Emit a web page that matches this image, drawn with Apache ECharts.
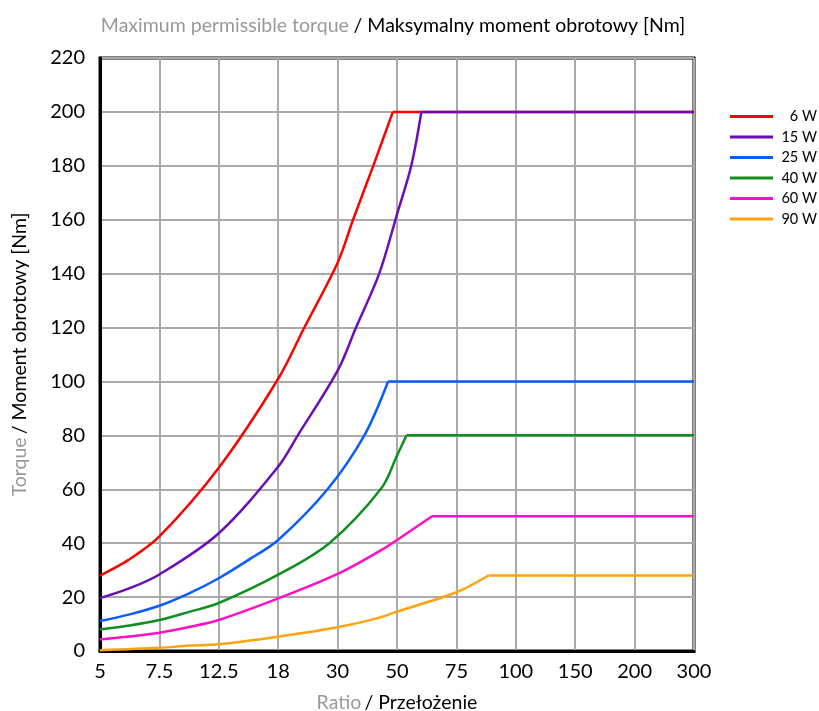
<!DOCTYPE html>
<html>
<head>
<meta charset="utf-8">
<script src="https://cdn.jsdelivr.net/npm/echarts@6/dist/echarts.min.js"></script>
<style>html,body{margin:0;padding:0;background:#fff;overflow:hidden}#c{width:819px;height:711px}</style>
</head>
<body>
<div id="c"></div>
<script>
// Tick labels of the ratio axis (evenly spaced positions 0..10)
const ratioLabels = ['5', '7.5', '12.5', '18', '30', '50', '75', '100', '150', '200', '300'];
const seriesNames = ['6 W', '15 W', '25 W', '40 W', '60 W', '90 W'];
const seriesColors = ['#ff0000', '#6a0fb4', '#0a5cff', '#0f8f1f', '#ff10c8', '#ffa210'];
const capValues = [200, 200, 100, 80, 50, 28];

// Curve readings: [axis position, torque Nm]
const curve6W  = [[0, 28], [0.48, 33.8], [1, 42.5], [2, 68], [3, 101], [3.44, 120], [4, 144], [4.26, 160], [4.6, 180], [4.93, 200]];
const curve15W = [[0, 19.6], [0.5, 23.3], [1, 28.4], [2, 43.7], [3, 68.4], [3.33, 80], [4, 104], [4.31, 120], [4.7, 140], [5, 162], [5.24, 180], [5.41, 200]];
const curve25W = [[0, 11.1], [0.5, 13.6], [1, 16.8], [1.5, 21.4], [2, 27], [2.5, 33.8], [3, 41.2], [3.83, 60], [4.45, 80], [4.85, 100]];
const curve40W = [[0, 8.0], [0.5, 9.5], [1, 11.5], [1.5, 14.5], [2, 17.8], [3, 28.3], [3.86, 40], [4.74, 60.5], [5, 72.5], [5.16, 80]];
const curve60W = [[0, 4.3], [0.5, 5.4], [1, 6.8], [1.5, 8.9], [2, 11.5], [3, 19.5], [4, 28.6], [4.74, 37.5], [5, 41.2], [5.59, 50]];
const curve90W = [[0, 0.3], [1, 1.2], [1.5, 2.0], [2, 2.5], [3, 5.3], [4, 8.8], [4.66, 12.1], [5, 14.6], [6, 21.8], [6.54, 28]];
const curves = [curve6W, curve15W, curve25W, curve40W, curve60W, curve90W];

const chart = echarts.init(document.getElementById('c'), null, {renderer: 'canvas'});
const FONT = 'Lato';
const series = [];
curves.forEach((pts, i) => {
  series.push({
    name: seriesNames[i], type: 'line', data: pts, smooth: 0.33,
    showSymbol: false, symbol: 'none', lineStyle: {color: seriesColors[i], width: 2.5},
    itemStyle: {color: seriesColors[i]}, z: 3 + i
  });
  const last = pts[pts.length - 1];
  series.push({
    name: seriesNames[i], type: 'line', data: [[last[0], capValues[i]], [ratioLabels.length - 1, capValues[i]]],
    showSymbol: false, symbol: 'none', lineStyle: {color: seriesColors[i], width: 2.5},
    itemStyle: {color: seriesColors[i]}, z: 3 + i
  });
});

const nameRich = {
  g: {color: '#999', fontSize: 19.5, fontFamily: FONT, fontWeight: 'normal'},
  b: {color: '#000', fontSize: 19.5, fontFamily: FONT, fontWeight: 'normal'}
};

chart.setOption({
  animation: false,
  textStyle: {fontFamily: FONT},
  title: {
    text: '{g|Maximum permissible torque} {b|/ Maksymalny moment obrotowy [Nm]}',
    left: 388, top: 11, textAlign: 'center',
    textStyle: {fontWeight: 'normal', rich: nameRich}
  },
  legend: {
    orient: 'vertical', left: 725, top: 104, itemGap: 5.5,
    itemWidth: 43, itemHeight: 3, icon: 'rect',
    data: seriesNames.map((n, i) => ({name: n, itemStyle: {color: seriesColors[i]}})),
    formatter: n => '{a|' + n + '}',
    textStyle: {fontFamily: FONT, fontSize: 14.5, color: '#000', rich: {a: {width: 39, align: 'right', fontSize: 14.5, fontFamily: FONT}}}
  },
  grid: {left: 100, right: 125, top: 58, bottom: 60, outerBoundsMode: 'none', containLabel: false,
         show: true, borderColor: '#000', borderWidth: 3, backgroundColor: 'transparent'},
  xAxis: {
    type: 'value', min: 0, max: ratioLabels.length - 1, interval: 1,
    axisLine: {show: true, lineStyle: {color: '#000', width: 3}},
    axisTick: {show: false},
    axisLabel: {formatter: v => ratioLabels[Math.round(v)], fontSize: 20, color: '#000', margin: 11, fontFamily: FONT},
    splitLine: {show: true, lineStyle: {color: '#aaa', width: 2}},
    name: '{g|Ratio} {b|/ Przełożenie}', nameLocation: 'middle', nameGap: 42,
    nameTextStyle: {rich: nameRich}
  },
  yAxis: {
    type: 'value', min: 0, max: 220, interval: 20,
    axisLine: {show: true, lineStyle: {color: '#000', width: 3}},
    axisTick: {show: false},
    axisLabel: {fontSize: 20, color: '#000', margin: 15, fontFamily: FONT},
    splitLine: {show: true, lineStyle: {color: '#aaa', width: 2}},
    name: '{g|Torque} {b|/ Moment obrotowy [Nm]}', nameLocation: 'middle', nameGap: 70, nameRotate: 90,
    nameTextStyle: {rich: nameRich}
  },
  series: series
});
</script>
</body>
</html>
